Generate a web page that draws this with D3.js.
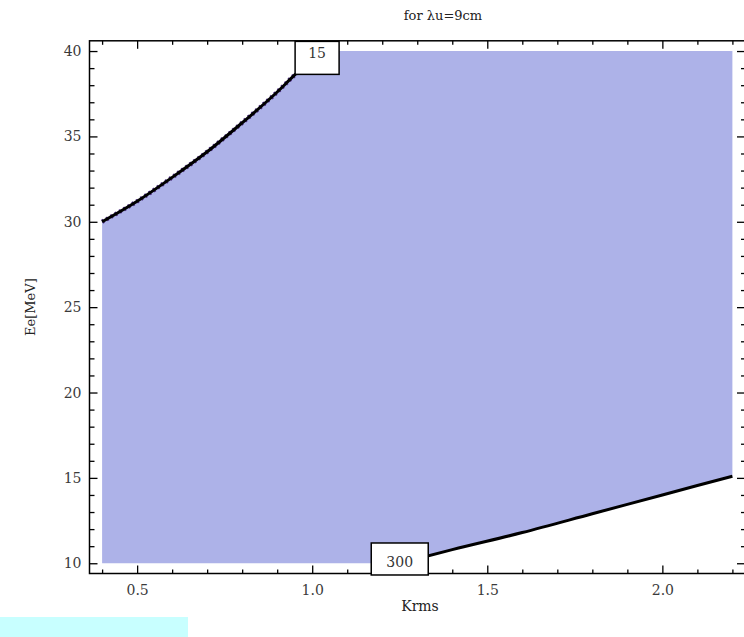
<!DOCTYPE html>
<html>
<head>
<meta charset="utf-8">
<script src="https://cdn.jsdelivr.net/npm/d3@7"></script>
<style>
  body { margin: 0; background: #fff; }
  svg { display: block; }
  .tick text { font-family: "DejaVu Serif", "Liberation Serif", serif; font-size: 14px; fill: #3a3a3a; }
  .lbl { font-family: "DejaVu Serif", "Liberation Serif", serif; fill: #222; }
</style>
</head>
<body>
<div id="chart"></div>
<script>
// contour 15 (upper-left boundary of the region)
const upperKrms = [0.4, 0.5, 0.6, 0.7, 0.8, 0.9, 0.95, 1.03];
const upperEe = [30.0, 31.2, 32.6, 34.1, 35.8, 37.6, 38.6, 40.0];
// contour 300 (lower-right boundary)
const lowerKrms = [1.25, 1.4, 1.6, 1.8, 2.0, 2.2];
const lowerEe = [10.0, 10.8, 11.8, 12.9, 14.0, 15.1];
// plotted region limits
const regionKrms = [0.4, 2.2];
const regionEe = [10, 40];
// contour labels
const labelText = ["15", "300"];
const labelKrms = [1.014, 1.25];
const labelEe = [39.6, 10.25];
// ticks
const xTicks = [0.5, 1.0, 1.5, 2.0];
const xMinor = d3.range(4, 23).map(d => d / 10).filter(d => !xTicks.includes(d));
const yTicks = [10, 15, 20, 25, 30, 35, 40];
const yMinor = d3.range(10, 41).filter(d => !yTicks.includes(d));

const width = 744, height = 637;

const svg = d3.select("#chart")
  .append("svg")
  .attr("width", width)
  .attr("height", height);

// 2% padding round the data like Mathematica
const x = d3.scaleLinear().domain([0.364, 2.236]).range([89.5, 745]);
const y = d3.scaleLinear().domain([9.4, 40.6]).range([573.5, 40.8]);

// filled region: between the two contours
const poly = [];
poly.push([regionKrms[0], regionEe[0]]);
upperKrms.forEach((k, i) => poly.push([k, upperEe[i]]));
poly.push([regionKrms[1], regionEe[1]]);
for (let i = lowerKrms.length - 1; i >= 0; i--) poly.push([lowerKrms[i], lowerEe[i]]);
poly.push([regionKrms[0], regionEe[0]]);

svg.append("path")
  .attr("d", d3.line().x(d => x(d[0])).y(d => y(d[1]))(poly))
  .attr("fill", "#adb2e8")
  .attr("stroke", "none");

const curve = d3.line().curve(d3.curveMonotoneX).x(d => x(d[0])).y(d => y(d[1]));
const upperPts = upperKrms.map((k, i) => [k, upperEe[i]]);
const lowerPts = lowerKrms.map((k, i) => [k, lowerEe[i]]);

// purple edge under the black contour line
svg.append("path")
  .attr("d", curve(upperPts))
  .attr("fill", "none")
  .attr("stroke", "#4a2a80")
  .attr("stroke-width", 4.5)
  .attr("stroke-dasharray", "2,3");

svg.append("path")
  .attr("d", curve(upperPts))
  .attr("fill", "none")
  .attr("stroke", "black")
  .attr("stroke-width", 3);

svg.append("path")
  .attr("d", curve(lowerPts))
  .attr("fill", "none")
  .attr("stroke", "black")
  .attr("stroke-width", 3);

// axes: ticks point inward
function styleAxis(g) {
  g.select(".domain").remove();
  g.selectAll(".tick line").attr("stroke", "black").attr("stroke-width", 1.3);
}

svg.append("g")
  .attr("transform", `translate(0,${y.range()[0]})`)
  .call(d3.axisBottom(x).tickValues(xTicks).tickSize(-8).tickPadding(12).tickFormat(d3.format(".1f")))
  .call(styleAxis);
svg.append("g")
  .attr("transform", `translate(0,${y.range()[0]})`)
  .call(d3.axisBottom(x).tickValues(xMinor).tickSize(-4).tickFormat(""))
  .call(styleAxis);
svg.append("g")
  .attr("transform", `translate(0,${y.range()[1]})`)
  .call(d3.axisTop(x).tickValues(xTicks).tickSize(-8).tickFormat(""))
  .call(styleAxis);
svg.append("g")
  .attr("transform", `translate(0,${y.range()[1]})`)
  .call(d3.axisTop(x).tickValues(xMinor).tickSize(-4).tickFormat(""))
  .call(styleAxis);

svg.append("g")
  .attr("transform", `translate(${x.range()[0]},0)`)
  .call(d3.axisLeft(y).tickValues(yTicks).tickSize(-8).tickPadding(8))
  .call(styleAxis);
svg.append("g")
  .attr("transform", `translate(${x.range()[0]},0)`)
  .call(d3.axisLeft(y).tickValues(yMinor).tickSize(-5).tickFormat(""))
  .call(styleAxis);
svg.append("g")
  .attr("transform", `translate(${x.range()[1]},0)`)
  .call(d3.axisRight(y).tickValues(yTicks).tickSize(-8).tickFormat(""))
  .call(styleAxis);
svg.append("g")
  .attr("transform", `translate(${x.range()[1]},0)`)
  .call(d3.axisRight(y).tickValues(yMinor).tickSize(-4).tickFormat(""))
  .call(styleAxis);

// frame
svg.append("rect")
  .attr("x", x.range()[0])
  .attr("y", y.range()[1])
  .attr("width", x.range()[1] - x.range()[0])
  .attr("height", y.range()[0] - y.range()[1])
  .attr("fill", "none")
  .attr("stroke", "black")
  .attr("stroke-width", 1.5);

// contour labels in white boxes
const boxW = [44, 57], boxH = [33, 32];
labelText.forEach((t, i) => {
  const cx = x(labelKrms[i]), cy = y(labelEe[i]);
  svg.append("rect")
    .attr("x", cx - boxW[i] / 2)
    .attr("y", cy - boxH[i] / 2)
    .attr("width", boxW[i])
    .attr("height", boxH[i])
    .attr("fill", "white")
    .attr("stroke", "black")
    .attr("stroke-width", 1.5);
  svg.append("text")
    .attr("class", "lbl")
    .attr("x", cx)
    .attr("y", i === 0 ? cy - 4 : cy + 4)
    .attr("text-anchor", "middle")
    .attr("dominant-baseline", "middle")
    .style("font-size", "14px")
    .style("fill", "#333")
    .text(t);
});

// title and axis labels
svg.append("text")
  .attr("class", "lbl")
  .attr("x", 443)
  .attr("y", 20)
  .attr("text-anchor", "middle")
  .style("font-size", "13px")
  .text("for λu=9cm");

svg.append("text")
  .attr("class", "lbl")
  .attr("x", 420)
  .attr("y", 611)
  .attr("text-anchor", "middle")
  .style("font-size", "14px")
  .text("Krms");

svg.append("text")
  .attr("class", "lbl")
  .attr("transform", `translate(35,${y(25)}) rotate(-90)`)
  .attr("text-anchor", "middle")
  .style("font-size", "13px")
  .text("Ee[MeV]");

// light cyan strip at the bottom-left corner
svg.append("rect")
  .attr("x", 0)
  .attr("y", 617)
  .attr("width", 188)
  .attr("height", 20)
  .attr("fill", "#c8ffff");
</script>
</body>
</html>
